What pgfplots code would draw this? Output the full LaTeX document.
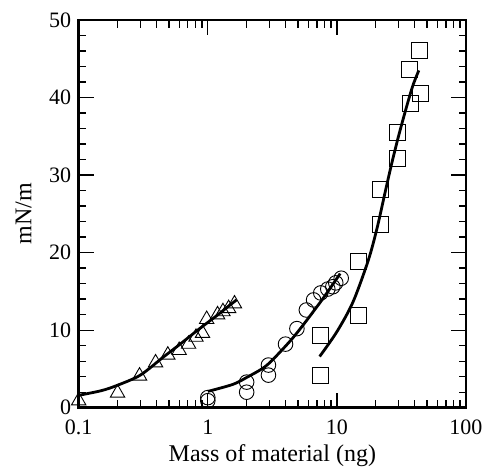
\documentclass[border=0pt]{standalone}
\usepackage{fontspec}
\setmainfont{Liberation Serif}
\usepackage{pgfplots}
\pgfplotsset{compat=1.18}
\begin{document}
\begin{tikzpicture}
\begin{axis}[
  scale only axis,
  width=387.3pt, height=387.7pt,
  xmode=log,
  xmin=0.1, xmax=100, ymin=0, ymax=50,
  xtick={0.1,1,10,100},
  xticklabels={0.1,1,10,100},
  minor xtick={0.2,0.3,0.4,0.5,0.6,0.7,0.8,0.9,2,3,4,5,6,7,8,9,20,30,40,50,60,70,80,90},
  ytick={0,10,20,30,40,50},
  minor y tick num=4,
  tick pos=both,
  tick align=inside,
  major tick length=15pt,
  minor tick length=7.5pt,
  every tick/.style={line width=1.3pt, black},
  axis line style={line width=2.8pt},
  /pgf/number format/assume math mode=true,
  tick label style={font=\fontsize{22}{25}\selectfont},
  xticklabel style={yshift=-9pt},
  yticklabel style={xshift=-4pt},
  xlabel={Mass of material (ng)},
  ylabel={mN/m},
  every axis x label/.style={at={(axis description cs:0.5,-0.123)},anchor=center,font=\fontsize{24}{28}\selectfont},
  every axis y label/.style={at={(axis description cs:-0.142,0.5)},rotate=90,anchor=center,font=\fontsize{24}{28}\selectfont},
  clip=false,
]
% triangles
\addplot[only marks, mark=triangle, mark size=8.3pt, mark options={line width=0.9pt}] coordinates {
(0.1,0.9) (0.2,1.9) (0.296,4.1) (0.394,5.8) (0.49,6.8) (0.60,7.4) (0.71,8.2)
(0.81,9.1) (0.91,9.6) (0.98,11.4) (1.19,12.0) (1.31,12.4) (1.45,12.8) (1.61,13.4)
};
\addplot[smooth, line width=2.8pt, black] coordinates {
(0.1,1.6) (0.15,2.2) (0.2,2.9) (0.3,4.2) (0.45,6.5) (0.6,8.1) (0.82,9.9)
(1.0,11.0) (1.2,12.0) (1.45,13.1) (1.67,13.9)
};
% circles
\addplot[only marks, mark=o, mark size=7.3pt, mark options={line width=0.9pt}] coordinates {
(1.0,0.9) (1.0,1.3) (2.0,2.0) (2.0,3.3) (2.95,4.2) (2.95,5.5) (4.0,8.2)
(4.9,10.2) (5.8,12.6) (6.6,13.9) (7.5,14.8) (8.5,15.3) (9.3,15.6) (9.8,16.1) (10.8,16.7)
};
\addplot[smooth, line width=2.8pt, black] coordinates {
(1.0,2.1) (1.56,3.0) (2.0,3.9) (2.83,5.4) (4.03,8.0) (5.1,10.0) (7.74,14.0) (10.6,17.3)
};
% squares
\addplot[only marks, mark=square, mark size=8pt, mark options={line width=0.9pt}] coordinates {
(7.5,4.2) (7.5,9.3) (14.7,11.9) (14.7,18.9) (21.9,23.6) (21.9,28.2) (29.3,32.2)
(29.6,35.5) (37.0,39.2) (36.5,43.6) (44.2,40.5) (43.6,46.1)
};
\addplot[smooth, line width=2.8pt, black] coordinates {
(7.35,6.6) (10,9.8) (13.3,13.6) (17.5,19.0) (20.5,23.2) (23.5,27.6) (26.5,31.4)
(30,35.0) (34.5,38.7) (38.7,41.5) (43.1,43.5)
};
\end{axis}
\pgfresetboundingbox
\useasboundingbox (-78.7pt,-61.3pt) rectangle (408.3pt,407.7pt);
\end{tikzpicture}
\end{document}
